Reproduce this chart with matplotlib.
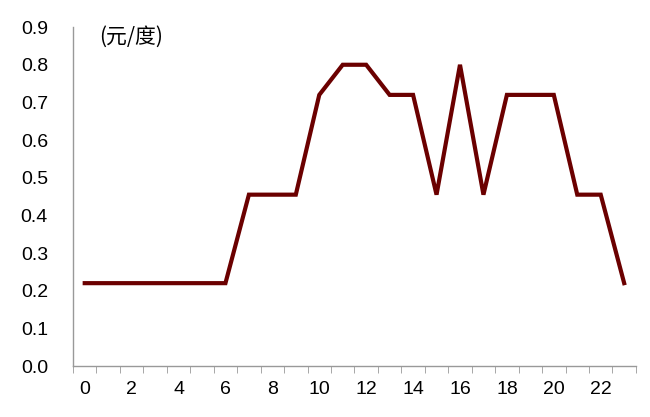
import numpy as np
import matplotlib.pyplot as plt
from matplotlib.ticker import MultipleLocator, FixedLocator

plt.rcParams['font.family'] = ['Liberation Sans', 'Noto Sans CJK SC', 'DejaVu Sans']

hours = list(range(24))
price = [0.22, 0.22, 0.22, 0.22, 0.22, 0.22, 0.22,
         0.455, 0.455, 0.455,
         0.72, 0.80, 0.80, 0.72, 0.72,
         0.455, 0.80, 0.455,
         0.72, 0.72, 0.72,
         0.455, 0.455, 0.22]
unit_label = "(元/度)"


def main():
    fig = plt.figure(figsize=(6.5, 4.17), dpi=100)
    ax = fig.add_axes([0.1123, 0.1223, 0.866, 0.8127])

    ax.plot(hours, price, color="#6B0000", linewidth=3.0,
            solid_joinstyle="miter")

    ax.set_xlim(-0.5, 23.5)
    ax.set_ylim(0, 0.9)
    ax.yaxis.set_major_locator(MultipleLocator(0.1))
    ax.yaxis.set_major_formatter(plt.FormatStrFormatter("%.1f"))
    ax.set_xticks(np.arange(0, 23, 2))
    ax.xaxis.set_minor_locator(FixedLocator(np.arange(-0.5, 24, 1)))

    for s in ["top", "right"]:
        ax.spines[s].set_visible(False)
    for s in ["left", "bottom"]:
        ax.spines[s].set_color("#999999")
        ax.spines[s].set_linewidth(1.0)

    ax.tick_params(axis="y", length=0, pad=18, labelsize=14)
    ax.tick_params(axis="x", which="major", length=0, pad=11, labelsize=14)
    ax.tick_params(axis="x", which="minor", length=5, color="#999999",
                   direction="out")

    fig.text(0.202, 0.912, unit_label, fontsize=15, ha="center", va="center",
             family=['Noto Sans CJK SC', 'DejaVu Sans'])

    fig.savefig("out.png")


if __name__ == '__main__':
    main()
